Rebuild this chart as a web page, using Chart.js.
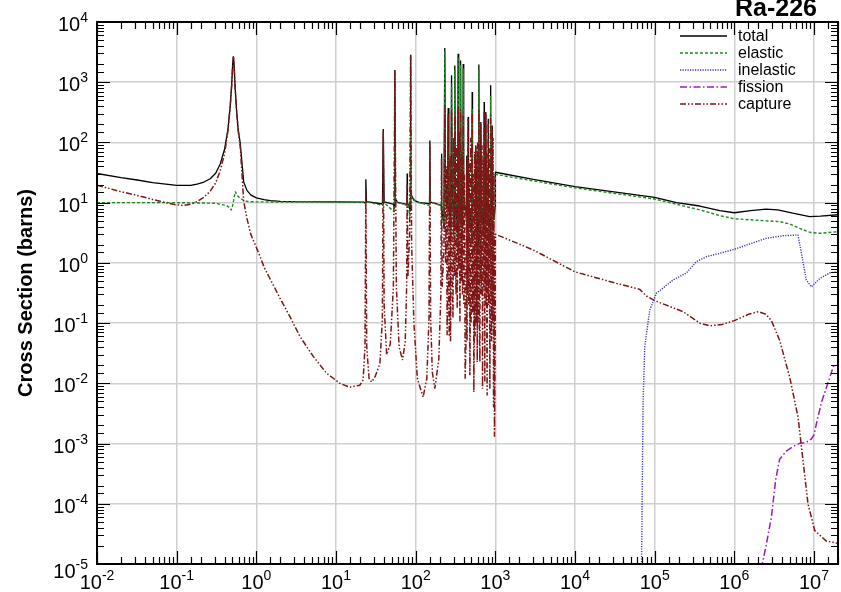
<!DOCTYPE html>
<html>
<head>
<meta charset="utf-8">
<title>Ra-226 cross sections</title>
<script src="https://cdn.jsdelivr.net/npm/chart.js@4.4.1/dist/chart.umd.min.js"></script>
<style>
  html, body { margin: 0; padding: 0; background: #fff; }
  canvas { display: block; }
</style>
</head>
<body>
<canvas id="xsChart" width="841" height="592"></canvas>
<script>
// energy (eV) / cross section (barns) pairs for each reaction
const total = [
  [0.01, 30.5], [0.02, 26], [0.032, 23.8], [0.05, 21.5], [0.1, 19.3], [0.15, 19.3], [0.18, 20.3], [0.22, 22],
  [0.264, 25], [0.31, 31], [0.352, 44], [0.4, 78], [0.44, 165], [0.47, 400], [0.49, 900], [0.505, 2000],
  [0.515, 2700], [0.525, 2000], [0.54, 900], [0.56, 400], [0.59, 170], [0.628, 96], [0.694, 22], [0.762, 16],
  [0.85, 13.5], [1.0, 12], [1.25, 11.2], [1.5, 10.8], [2.0, 10.5], [3.0, 10.4], [10, 10.3], [22.5, 10.2],
  [23.4, 9.8], [23.7, 24.5], [24.1, 10.4], [38.3, 9.5], [39.2, 167], [40.2, 10.3], [52, 9.5], [54.3, 8.5],
  [54.8, 1590], [55.5, 11.5], [60, 10], [77.7, 9.4], [78.2, 30.5], [78.8, 10], [85.5, 7.5], [86.3, 2870],
  [87.3, 14], [95, 11], [110, 10], [149.5, 9.6], [150.7, 108], [152, 10.3], [209.5, 9], [211, 65], [213, 8.5],
  [226, 4], [232, 3700], [237, 15], [250, 8], [256, 373], [261, 12], [276, 3], [282, 1300], [288, 14],
  [304, 4], [310, 1900], [316, 15], [336, 2.5], [341, 2980], [347, 14], [362, 5], [366, 2300], [371, 14],
  [390, 4], [395, 2000], [401, 13], [433, 6], [436, 60], [440, 10.5], [452, 5], [456, 264], [461, 11],
  [508, 3], [512, 689], [517, 13], [565, 7], [569, 90], [574, 9.5], [617, 2], [621, 1960], [627, 14],
  [655, 6], [658, 218], [663, 11], [720, 3], [724, 470], [729, 12], [756, 5], [760, 320], [765, 11],
  [809, 6], [813, 248], [818, 10.5], [867, 2], [871, 887], [876, 12], [908, 7], [912, 192], [918, 9.5],
  [960, 5.5], [995, 8.5], [1000, 32], [3000, 24.4], [1e4, 18.4], [1e5, 12.2], [1.875e5, 10], [3.68e5, 8.8],
  [6.56e5, 7.4], [1e6, 6.8], [1.6e6, 7.4], [2.5e6, 7.8], [3.5e6, 7.6], [5.4e6, 6.7], [8.8e6, 5.85],
  [1.2e7, 6.0], [2e7, 6.3]
];

const elastic = [
  [0.01, 10], [0.1, 10], [0.3, 9.8], [0.42, 9.0], [0.46, 8.3], [0.484, 7.5], [0.5, 8.5], [0.52, 11],
  [0.543, 15.2], [0.58, 13], [0.628, 11.8], [0.7, 10.8], [0.8, 10.4], [1.0, 10.3], [10, 10.2], [22.5, 10.1],
  [23.5, 9.5], [23.7, 10.5], [24, 10.4], [38.5, 9], [39.2, 12], [40, 10], [54, 7], [54.8, 90], [55.5, 10.5],
  [77.5, 9], [78.2, 10.5], [79, 9.8], [85, 6], [86.3, 170], [87.5, 13], [100, 10.5], [148, 9], [150.7, 13],
  [153, 10.2], [205, 9], [211, 10], [218, 8], [228, 3.5], [232, 3300], [236, 14], [250, 7], [256, 80],
  [260, 11], [275, 2], [282, 950], [287, 13], [303, 3], [310, 1600], [315, 14], [335, 1.5], [341, 2600],
  [346, 13], [362, 4], [366, 1950], [370, 13], [390, 3], [395, 1700], [400, 12], [432, 5], [436, 20],
  [440, 10], [452, 4], [456, 14], [460, 10], [508, 2], [512, 360], [516, 12], [565, 6], [569, 10], [574, 9],
  [617, 1], [621, 1600], [626, 13], [655, 5], [658, 20], [662, 10], [720, 2], [724, 140], [728, 11],
  [756, 4], [760, 30], [764, 10], [809, 5], [813, 20], [817, 10], [867, 1], [871, 590], [875, 11],
  [908, 6], [912, 10], [918, 9], [960, 5], [995, 8], [1000, 29.5], [3000, 23], [1e4, 17.6], [1e5, 11.5],
  [1.875e5, 9.4], [3.68e5, 7.6], [6.56e5, 6.1], [1e6, 5.4], [2.5e6, 5.0], [3.7e6, 4.85], [5e6, 4.4],
  [6.6e6, 3.75], [9e6, 3.2], [1.2e7, 3.1], [2e7, 3.3]
];

const inelastic = [
  [6.8e4, 5e-6], [6.95e4, 1e-4], [7.16e4, 0.0053], [7.51e4, 0.0405], [8.67e4, 0.165], [1.05e5, 0.312],
  [1.7e5, 0.52], [2.5e5, 0.68], [3.34e5, 1.05], [4.46e5, 1.27], [6.56e5, 1.44], [1e6, 1.68], [2.5e6, 2.56],
  [4.1e6, 2.83], [6.3e6, 2.9], [6.95e6, 1.44], [8.0e6, 0.52], [9.27e6, 0.40], [1.18e7, 0.55], [1.57e7, 0.68],
  [2e7, 0.72]
];

const fission = [
  [2.0e6, 5e-6], [2.5e6, 2e-5], [2.92e6, 6e-5], [3.3e6, 2.5e-4], [3.7e6, 5.5e-4], [4.5e6, 7.5e-4],
  [5.5e6, 9e-4], [6.5e6, 1.0e-3], [8.0e6, 1.05e-3], [9.3e6, 1.2e-3], [1.0e7, 1.4e-3], [1.1e7, 2.5e-3],
  [1.25e7, 5e-3], [1.45e7, 9e-3], [1.75e7, 0.019], [2e7, 0.02]
];

const capture = [
  [0.01, 19.5], [0.02, 15.2], [0.032, 13.2], [0.05, 11.3], [0.075, 9.9], [0.1, 9.2], [0.12, 9.0], [0.15, 9.4],
  [0.18, 10.4], [0.22, 12.3], [0.264, 15.5], [0.31, 21.5], [0.352, 34], [0.4, 66], [0.44, 155], [0.47, 390],
  [0.49, 890], [0.505, 1990], [0.515, 2650], [0.525, 1990], [0.54, 890], [0.56, 390], [0.59, 160], [0.628, 85],
  [0.694, 10.5], [0.762, 5.5], [0.85, 3.0], [1.0, 1.8], [1.11, 1.3], [1.25, 0.85], [1.48, 0.55], [1.98, 0.26],
  [2.64, 0.128], [3.53, 0.06], [5.18, 0.028], [7.62, 0.0147], [11.2, 0.01], [14.9, 0.0086], [19.9, 0.0093],
  [21.9, 0.0114], [23.1, 0.04], [23.7, 14], [24.3, 0.04], [26, 0.012], [28, 0.0105], [31, 0.013], [35.6, 0.0215],
  [38.2, 0.12], [39.2, 155], [40.2, 0.2], [43.2, 0.03], [48, 0.045], [52.5, 0.4], [54.8, 1500], [57.2, 0.4],
  [62, 0.04], [68.4, 0.0244], [74, 0.05], [77, 0.4], [78.2, 20], [80, 0.6], [84, 3], [86.3, 2700], [89, 2],
  [95, 0.1], [105, 0.012], [124, 0.0059], [138, 0.012], [147, 0.12], [150.7, 95], [154, 0.12], [162, 0.015],
  [174, 0.0082], [195, 0.025], [207, 0.3], [211, 55], [215, 0.4], [226, 1.5], [232, 380], [238, 1], [244, 40],
  [248, 0.063], [253, 0.5], [256, 300], [260, 0.3], [264, 0.06], [270, 60], [274, 0.05], [277, 0.5], [282, 350],
  [288, 0.5], [294, 0.12], [300, 120], [305, 0.6], [310, 300], [316, 0.8], [321, 0.3], [325, 90], [332, 0.174],
  [337, 1.2], [341, 380], [347, 0.8], [352, 150], [359, 0.104], [363, 1], [366, 350], [372, 0.5], [380, 70],
  [387, 0.3], [395, 280], [402, 0.2], [410, 30], [418, 0.0119], [430, 0.06], [436, 40], [441, 0.05], [445, 60],
  [450, 0.3], [456, 250], [462, 0.2], [470, 45], [479, 0.0136], [486, 0.3], [490, 120], [496, 0.1], [505, 0.4],
  [512, 330], [520, 0.15], [530, 30], [537, 0.0072], [545, 0.1], [550, 70], [557, 0.06], [563, 0.3], [569, 85],
  [577, 0.1], [585, 50], [592, 0.0226], [597, 0.3], [600, 100], [606, 0.1], [614, 0.4], [621, 350], [628, 0.2],
  [633, 0.05], [640, 0.0226], [645, 60], [652, 0.5], [658, 200], [665, 0.3], [680, 90], [691, 0.0081], [705, 50],
  [716, 0.4], [724, 330], [732, 0.3], [738, 0.0105], [745, 100], [752, 0.4], [760, 290], [767, 0.2], [775, 70],
  [782, 0.05], [789, 0.0063], [795, 40], [806, 0.3], [813, 230], [820, 0.2], [835, 80], [853, 0.0081], [865, 0.5],
  [871, 300], [878, 0.3], [885, 60], [895, 0.05], [905, 0.3], [912, 190], [920, 0.1], [935, 120], [950, 0.004],
  [960, 30], [975, 0.0013], [995, 0.05], [1000, 3.0],
  [2990, 1.64], [1e4, 0.71], [3.31e4, 0.457], [6.5e4, 0.363], [7.89e4, 0.282], [1e5, 0.236], [2.27e5, 0.155],
  [3.68e5, 0.1], [4.91e5, 0.09], [7e5, 0.095], [1e6, 0.11], [1.5e6, 0.14], [2e6, 0.155], [2.5e6, 0.14],
  [2.92e6, 0.11], [3.71e6, 0.0515], [4.95e6, 0.0127], [6.3e6, 0.00275], [7.28e6, 5.2e-4], [8.4e6, 1.0e-4],
  [1.02e7, 3.6e-5], [1.43e7, 2.4e-5], [2e7, 2.2e-5]
];

const xExponents = [-2, -1, 0, 1, 2, 3, 4, 5, 6, 7];
const yExponents = [-5, -4, -3, -2, -1, 0, 1, 2, 3, 4];

const FONT = '"Liberation Sans", Arial, Helvetica, sans-serif';

const series = [
  { label: 'total', data: total, color: '#000000', dash: [], width: 1.3 },
  { label: 'elastic', data: elastic, color: '#1f8a24', dash: [3, 2], width: 1.4 },
  { label: 'inelastic', data: inelastic, color: '#3535b5', dash: [1.2, 1.3], width: 1.4 },
  { label: 'fission', data: fission, color: '#9b1eb4', dash: [7, 2.5, 1.5, 2.5], width: 1.5 },
  { label: 'capture', data: capture, color: '#7d1616', dash: [6, 2, 1.5, 2, 1.5, 2], width: 1.5 }
];

const isDecade = v => Math.abs(Math.log10(v) - Math.round(Math.log10(v))) < 1e-6;

// frame, inward tick marks on all four sides, power-of-ten labels, legend and titles
const decorations = {
  id: 'decorations',
  afterDraw(chart) {
    const { ctx, chartArea: a, scales: { x, y } } = chart;
    ctx.save();

    ctx.strokeStyle = '#000';
    ctx.lineWidth = 1.2;
    ctx.setLineDash([]);
    ctx.beginPath();
    x.ticks.forEach(t => {
      const px = Math.round(x.getPixelForValue(t.value)) + 0.5;
      const len = isDecade(t.value) ? 13 : 7;
      ctx.moveTo(px, a.bottom); ctx.lineTo(px, a.bottom - len);
      ctx.moveTo(px, a.top); ctx.lineTo(px, a.top + len);
    });
    y.ticks.forEach(t => {
      const py = Math.round(y.getPixelForValue(t.value)) + 0.5;
      const len = isDecade(t.value) ? 13 : 7;
      ctx.moveTo(a.left, py); ctx.lineTo(a.left + len, py);
      ctx.moveTo(a.right, py); ctx.lineTo(a.right - len, py);
    });
    ctx.stroke();

    ctx.lineWidth = 2;
    ctx.strokeRect(a.left, a.top, a.right - a.left, a.bottom - a.top);

    const baseFont = '20px ' + FONT;
    const expFont = '14px ' + FONT;
    ctx.fillStyle = '#000';
    ctx.textBaseline = 'alphabetic';
    ctx.textAlign = 'left';

    yExponents.forEach((e, i) => {
      // the lowest label sits a little lower so it clears the x labels
      const py = y.getPixelForValue(Math.pow(10, e)) + (i === 0 ? 6 : 1);
      ctx.font = expFont;
      const ew = ctx.measureText(String(e)).width;
      ctx.font = baseFont;
      const bw = ctx.measureText('10').width;
      const x0 = a.left - 9 - ew - bw;
      ctx.fillText('10', x0, py + 8);
      ctx.font = expFont;
      ctx.fillText(String(e), x0 + bw, py - 1);
    });

    xExponents.forEach(e => {
      const px = x.getPixelForValue(Math.pow(10, e));
      ctx.font = expFont;
      const ew = ctx.measureText(String(e)).width;
      ctx.font = baseFont;
      const bw = ctx.measureText('10').width;
      const x0 = px - (bw + ew) / 2;
      ctx.fillText('10', x0, 589);
      ctx.font = expFont;
      ctx.fillText(String(e), x0 + bw, 580);
    });

    // axis title
    ctx.save();
    ctx.translate(32, (a.top + a.bottom) / 2);
    ctx.rotate(-Math.PI / 2);
    ctx.textAlign = 'center';
    ctx.font = 'bold 20px ' + FONT;
    ctx.fillText('Cross Section (barns)', 0, 0);
    ctx.restore();

    // nuclide name
    ctx.textAlign = 'center';
    ctx.font = 'bold 25px ' + FONT;
    ctx.fillText('Ra-226', 776, 16);

    // legend
    ctx.font = '16px ' + FONT;
    ctx.textAlign = 'left';
    ctx.textBaseline = 'middle';
    series.forEach((s, i) => {
      const ly = 36 + i * 17;
      ctx.strokeStyle = s.color;
      ctx.lineWidth = s.width;
      ctx.setLineDash(s.dash);
      ctx.beginPath();
      ctx.moveTo(680, ly);
      ctx.lineTo(727, ly);
      ctx.stroke();
      ctx.fillStyle = '#000';
      ctx.fillText(s.label, 738, ly + 1);
    });

    ctx.restore();
  }
};

const ctx = document.getElementById('xsChart').getContext('2d');

new Chart(ctx, {
  type: 'line',
  data: {
    datasets: series.map((s, i) => ({
      label: s.label,
      data: s.data.map(([e, xs]) => ({ x: e, y: xs })),
      borderColor: s.color,
      borderWidth: s.width,
      borderDash: s.dash,
      borderJoinStyle: 'bevel',
      pointRadius: 0,
      fill: false,
      tension: 0,
      order: series.length - i
    }))
  },
  options: {
    responsive: false,
    animation: false,
    events: [],
    layout: { padding: { left: 97, top: 22, right: 3, bottom: 28 } },
    plugins: {
      legend: { display: false },
      tooltip: { enabled: false }
    },
    scales: {
      x: {
        type: 'logarithmic',
        min: 0.01,
        max: 2e7,
        ticks: { display: false },
        border: { display: false },
        grid: {
          drawTicks: false,
          lineWidth: 1.5,
          color: c => (c.tick && isDecade(c.tick.value)) ? '#cfcfcf' : 'rgba(0,0,0,0)'
        }
      },
      y: {
        type: 'logarithmic',
        min: 1e-5,
        max: 1e4,
        ticks: { display: false },
        border: { display: false },
        grid: {
          drawTicks: false,
          lineWidth: 1.5,
          color: c => (c.tick && isDecade(c.tick.value)) ? '#cfcfcf' : 'rgba(0,0,0,0)'
        }
      }
    }
  },
  plugins: [decorations]
});
</script>
</body>
</html>
